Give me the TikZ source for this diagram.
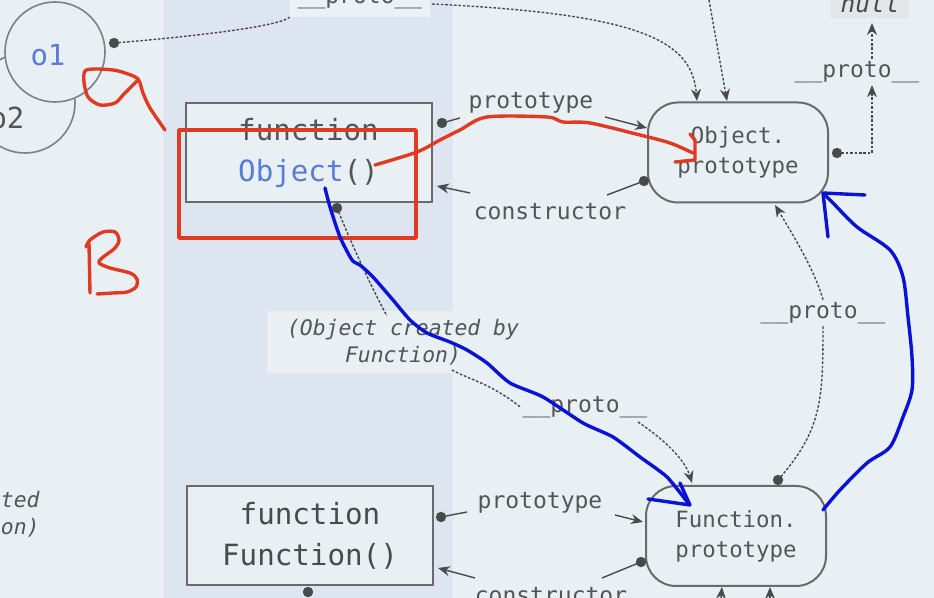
\documentclass[tikz,border=0pt]{standalone}
\usepackage{fontspec}
\setmonofont{DejaVu Sans Mono}
\usetikzlibrary{arrows.meta}
\definecolor{bgc}{HTML}{E8F0F4}
\definecolor{colc}{HTML}{DCE5F0}
\definecolor{lnc}{HTML}{4A4A4A}
\definecolor{boxc}{HTML}{6A6A6A}
\definecolor{txc}{HTML}{555555}
\definecolor{blt}{HTML}{5A7BD8}
\definecolor{redc}{HTML}{E03A22}
\definecolor{bluc}{HTML}{0A12D6}
\definecolor{nullbg}{HTML}{E2E6E9}
\definecolor{lblbg}{HTML}{EBF2F6}
\begin{document}
\begin{tikzpicture}[x=0.5pt,y=-0.5pt,
  fnbox/.style={draw=boxc, fill=bgc, line width=1pt, inner sep=0pt, minimum width=123pt, minimum height=49.5pt,
     align=center, text=txc, font=\ttfamily\fontsize{14.6pt}{20.5pt}\selectfont},
  protobox/.style={draw=boxc, fill=bgc, line width=1pt, rounded corners=15pt, inner sep=0pt, minimum width=90pt,
     minimum height=50pt, align=center, text=txc, font=\ttfamily\fontsize{11.2pt}{15pt}\selectfont},
  lbl/.style={text=txc, fill=bgc, inner sep=1pt, font=\ttfamily\fontsize{11.5pt}{14pt}\selectfont},
  ilbl/.style={text=txc, inner sep=2pt, align=center, font=\ttfamily\itshape\fontsize{10.7pt}{13.5pt}\selectfont},
  circ/.style={circle, draw=boxc!85, line width=0.8pt, fill=bgc, inner sep=0pt, minimum size=50pt},
  conn/.style={lnc, line width=0.7pt},
  dotl/.style={lnc, line width=0.7pt, dash pattern=on 1.3pt off 0.9pt},
  tip/.style={-{Stealth[length=6pt,width=5pt]}},
  redpen/.style={redc, line width=1.7pt, line join=round, line cap=round},
  bluepen/.style={bluc, line width=1.7pt, line join=round, line cap=round}]
\useasboundingbox (0,0) rectangle (934,598);
\fill[bgc] (0,0) rectangle (934,598);
\fill[colc] (163,0) rectangle (453,598);

% circles
\node[circ] (o2) at (25,103) {};
\node[text=txc, font=\ttfamily\fontsize{14.5pt}{16pt}\selectfont] (o2t) at (7,118) {o2};
\node[circ] (o1) at (55,52) {};
\node[text=blt, font=\ttfamily\fontsize{14.5pt}{16pt}\selectfont] (o1t) at (48,55) {o1};

% boxes
\node[fnbox] (objF) at (308.5,152.5) {function\\\textcolor{blt}{Object}()};
\node[fnbox, text=lnc] (funF) at (310,535.5) {function\\Function()};
\node[protobox] (objP) at (738,152.5) {\raisebox{-2.5pt}{}Object.\\prototype\raisebox{-2.5pt}{}};
\node[protobox] (funP) at (736,536) {Function.\\prototype};

% dots
\coordinate (dO1) at (114,43);
\coordinate (dOPr) at (837,153);
\coordinate (dObjFr) at (442,123);
\coordinate (dOPl) at (644,181);
\coordinate (dObjFb) at (337,208);
\coordinate (dFunFr) at (441,517);
\coordinate (dFPl) at (641,562);
\coordinate (dFPt) at (778,480);
\coordinate (dFunFb) at (308,592);
\foreach \p in {dO1,dOPr,dObjFr,dOPl,dObjFb,dFunFr,dFPl,dFPt,dFunFb}
  \fill[lnc] (\p) circle (2.6pt);

% labels
\node[lbl, fill=lblbg, minimum width=70pt, inner ysep=4pt] (tp) at (360,-2) {\_\_proto\_\_};
\node[text=lnc, fill=nullbg, inner xsep=5pt, inner ysep=3pt, font=\ttfamily\itshape\fontsize{12.2pt}{14pt}\selectfont] (null) at (870,3) {null};
\node[lbl] (rp1) at (857,72) {\_\_proto\_\_};
\node[lbl, fill=none] (pt1) at (531,103) {prototype};
\node[lbl, fill=none] (ct1) at (550,212) {constructor};
\node[ilbl, fill=bgc, inner xsep=10pt, inner ysep=4pt] (ocb) at (403,342) {(Object created by\\Function)};
\node[lbl] (mp) at (585,407) {\_\_proto\_\_};
\node[lbl] (rp2) at (823,313) {\_\_proto\_\_};
\node[lbl, fill=none] (pt2) at (540,503) {prototype};
\node[lbl, fill=none] (ct2) at (551,596) {constructor};
\node[ilbl, align=right, anchor=east] (left) at (44,514) {ated\\on)};

% top connectors
\draw[dotl] (dO1) .. controls (200,36) and (280,26) .. (tp.south west);
\draw[dotl, tip] (432,4) .. controls (640,14) and (692,40) .. (697,101);
\draw[dotl, tip] (709,0) -- (727,101);
\draw[dotl, tip] (dOPr) -- (872,153) -- (rp1.south -| 872,0);
\draw[dotl, tip] (rp1.north -| 872,0) -- (872,23);

% prototype / constructor (Object)
\draw[conn] (dObjFr) -- (460,118);
\draw[conn, tip] (605,117) -- (647,128);
\draw[conn] (dOPl) -- (607,195);
\draw[conn, tip] (470,193) -- (437,186);

% prototype / constructor (Function)
\draw[conn] (dFunFr) -- (467,512);
\draw[conn, tip] (615,515) -- (643,522);
\draw[conn] (dFPl) -- (602,578);
\draw[conn, tip] (475,578) -- (438,568);

% Object created by Function chain
\draw[dotl] (dObjFb) .. controls (350,240) and (370,285) .. (387,316);
\draw[dotl] (452,370) .. controls (470,380) and (490,383) .. (mp.west);
\draw[dotl, tip] (638,422) .. controls (665,440) and (685,460) .. (692,483);

% right __proto__ chain
\draw[dotl, tip] (rp2.north) .. controls (815,270) and (790,230) .. (775,205);
\draw[dotl] (rp2.south) .. controls (823,400) and (822,430) .. (dFPt);

% bottom arrows
\draw[conn, tip] (720,610) -- (722,587);
\draw[conn, tip] (770,610) -- (770,587);

% red annotations
\draw[redpen] plot[smooth, tension=0.5] coordinates {(165,130) (150,108) (143,93) (138,79) (125,73) (113,70) (95,69) (85,71) (84,82) (88,97) (100,105) (115,103) (124,94) (138,80)};
\draw[redpen] (179,130) rectangle (416,238);
\draw[redpen] (89,243) -- (90,293);
\draw[redpen] plot[smooth, tension=0.5] coordinates {(86,247) (90,240) (103,232) (115,232) (119,240) (115,248) (102,258) (99,263) (110,268) (130,273) (137,279) (136,287) (127,292) (113,293) (97,294)};
\draw[redpen] plot[smooth, tension=0.5] coordinates {(375,165) (417,152) (440,140) (460,130) (487,117) (547,117) (563,122) (590,123) (640,135) (670,143) (693,153)};
\draw[redpen] (690,134) -- (695,140) -- (695,160) -- (675,162);

% blue annotations
\draw[bluepen] plot[smooth, tension=0.4] coordinates {(325,188) (330,207) (340,237) (352,260) (360,265) (373,277) (393,300) (410,320) (427,333) (450,342) (467,350) (487,363) (510,383) (543,397) (583,423) (613,437) (640,457) (667,477) (688,503)};
\draw[bluepen] (680,483) -- (690,505) -- (648,499);
\draw[bluepen] plot[smooth, tension=0.5] coordinates {(823,510) (840,490) (867,463) (890,447) (903,417) (912,390) (912,357) (908,317) (903,277) (890,250) (857,227) (833,203) (823,193)};
\draw[bluepen] (865,195) -- (823,193) -- (828,237);
\end{tikzpicture}
\end{document}
